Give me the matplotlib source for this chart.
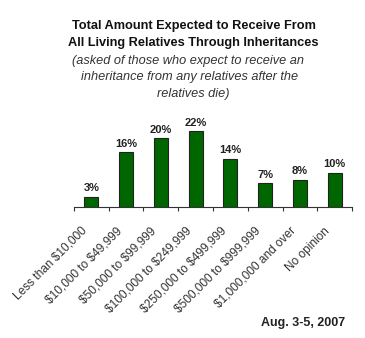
import matplotlib
matplotlib.use('Agg')
import matplotlib.pyplot as plt
import numpy as np

categories = ['Less than $10,000', '$10,000 to $49,999', '$50,000 to $99,999',
              '$100,000 to $249,999', '$250,000 to $499,999', '$500,000 to $999,999',
              '$1,000,000 and over', 'No opinion']
values = [3, 16, 20, 22, 14, 7, 8, 10]

plt.rcParams['font.family'] = ['Liberation Sans', 'DejaVu Sans']

fig = plt.figure(figsize=(3.65, 3.38), dpi=100)
ax = fig.add_axes([0.2027, 0.3876, 0.7617, 0.305])

x = np.arange(len(categories))
ax.bar(x, values, width=0.4, color='#006600', edgecolor='#222222', linewidth=0.8)
for xi, v in zip(x, values):
    ax.text(xi, v + 1.0, f'{v}%', ha='center', va='bottom', fontsize=8,
            fontweight='bold', color='#222222')

ax.set_xlim(-0.5, len(categories) - 0.5)
ax.set_ylim(0, 30)
for s in ['top', 'right', 'left']:
    ax.spines[s].set_visible(False)
ax.spines['bottom'].set_color('#333333')
ax.set_yticks([])
ax.set_xticks(np.arange(len(categories) + 1) - 0.5)
ax.set_xticklabels([])
ax.tick_params(axis='x', direction='out', length=3, color='#333333')
for xi, lab in zip(x, categories):
    ax.text(xi - 0.3, -5.2, lab, rotation=45, ha='right', va='top',
            rotation_mode='anchor', fontsize=8.6, color='#333333',
            parse_math=False)

fig.text(0.53, 0.923, 'Total Amount Expected to Receive From', ha='center',
         va='center', fontsize=9.2, fontweight='bold', color='#111111')
fig.text(0.53, 0.873, 'All Living Relatives Through Inheritances', ha='center',
         va='center', fontsize=9.2, fontweight='bold', color='#111111')
fig.text(0.515, 0.820, '(asked of those who expect to receive an', ha='center',
         va='center', fontsize=9.2, style='italic', color='#333333')
fig.text(0.52, 0.772, 'inheritance from any relatives after the', ha='center',
         va='center', fontsize=9.2, style='italic', color='#333333')
fig.text(0.53, 0.722, 'relatives die)', ha='center',
         va='center', fontsize=9.2, style='italic', color='#333333')

fig.text(0.945, 0.045, 'Aug. 3-5, 2007', ha='right', va='center',
         fontsize=9, fontweight='bold', color='#222222')

fig.savefig('out.png', dpi=100, facecolor='white')
